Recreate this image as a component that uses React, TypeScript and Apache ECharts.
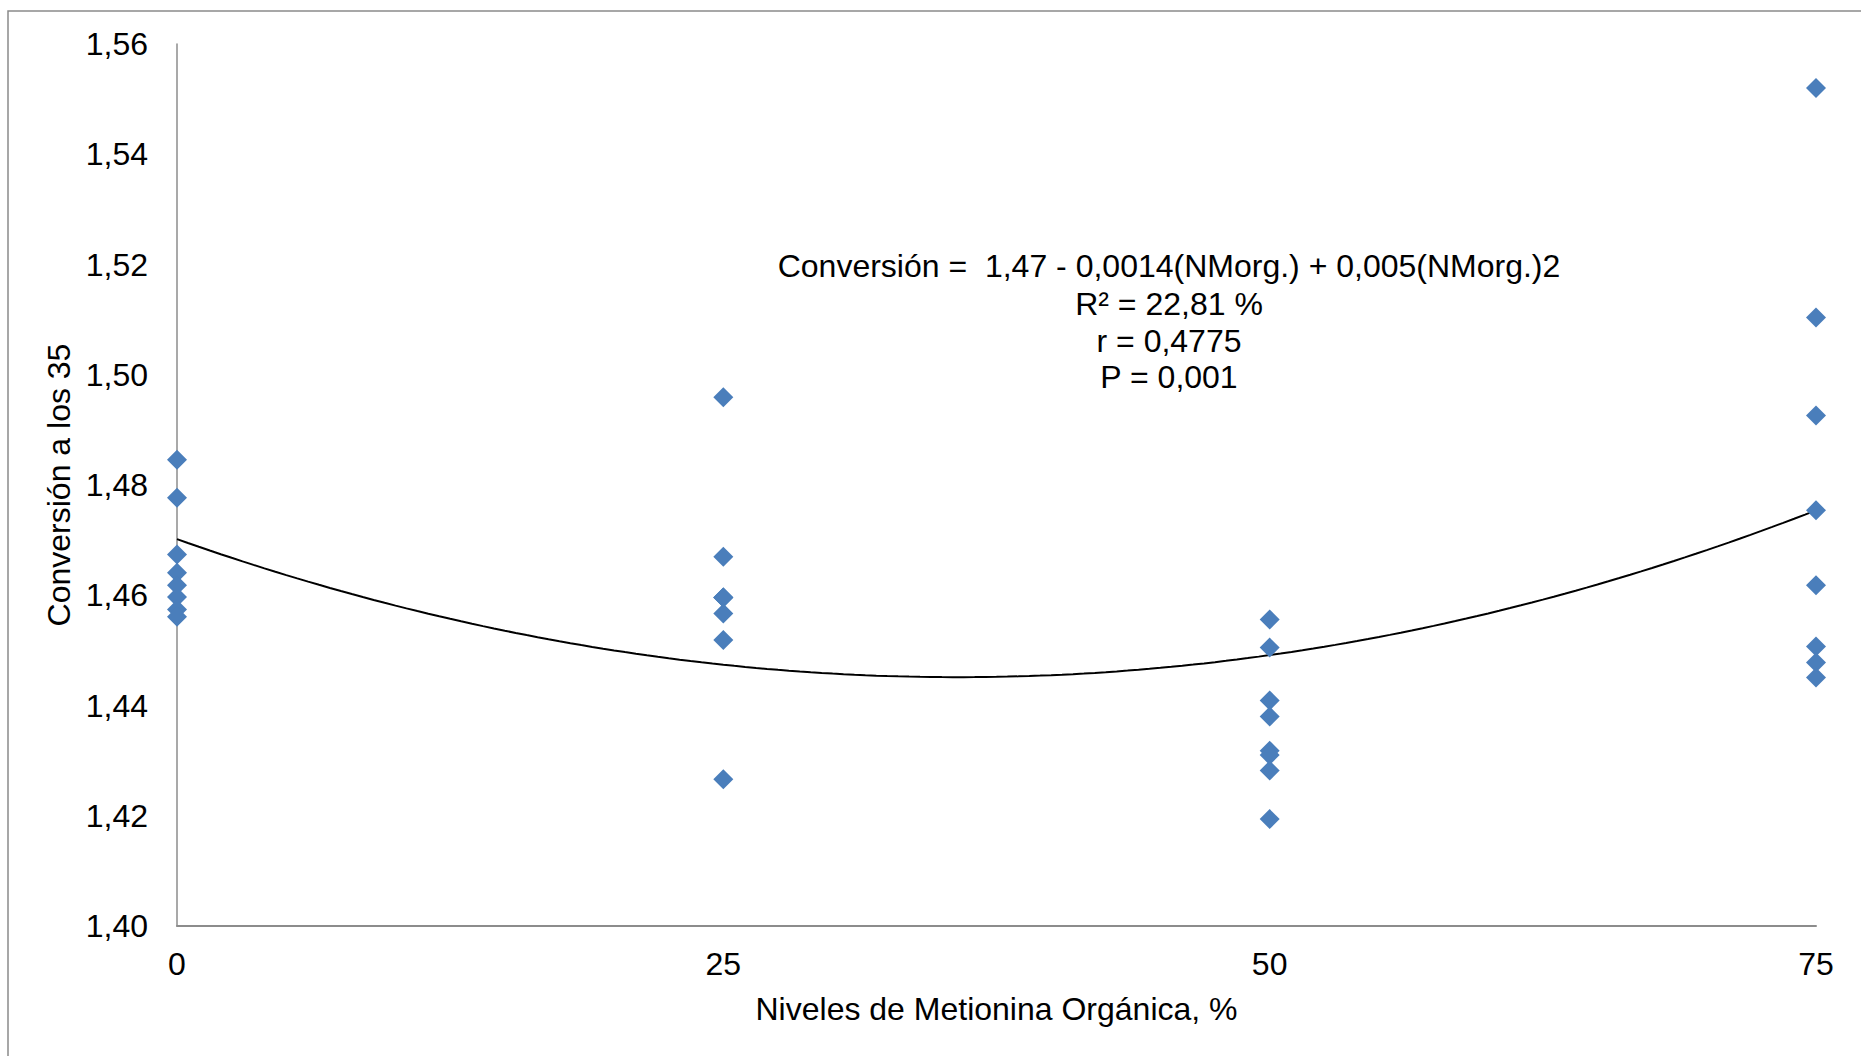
import React, { useEffect, useRef } from "react";
import * as echarts from "echarts";

// Niveles de Metionina Orgánica (%)
const levels = [0, 25, 50, 75];
// Conversión a los 35 días (some points overlap)
const conv0 = [1.4846, 1.4777, 1.4674, 1.4641, 1.4618, 1.4597, 1.4574, 1.4561];
const conv25 = [1.4959, 1.467, 1.4596, 1.4596, 1.4596, 1.4567, 1.4519, 1.4266];
const conv50 = [1.4556, 1.4505, 1.4409, 1.438, 1.4318, 1.431, 1.4282, 1.4194];
const conv75 = [1.552, 1.5104, 1.4926, 1.4754, 1.4618, 1.4507, 1.4478, 1.4451];
const groups = [conv0, conv25, conv50, conv75];

const yTicksMin = 1.4;
const yTicksMax = 1.56;
const yStep = 0.02;

const equationLines = [
  "Conversión =  1,47 - 0,0014(NMorg.) + 0,005(NMorg.)2",
  "R² = 22,81 %",
  "r = 0,4775",
  "P = 0,001",
];

const FONT = "'Liberation Sans', Arial, sans-serif";

// least-squares quadratic fit of the observed points (the chart's trend line)
function quadFit(pts: number[][]) {
  let s0 = 0, s1 = 0, s2 = 0, s3 = 0, s4 = 0, t0 = 0, t1 = 0, t2 = 0;
  for (const [x, y] of pts) {
    s0 += 1; s1 += x; s2 += x * x; s3 += x ** 3; s4 += x ** 4;
    t0 += y; t1 += x * y; t2 += x * x * y;
  }
  const M = [
    [s0, s1, s2, t0],
    [s1, s2, s3, t1],
    [s2, s3, s4, t2],
  ];
  for (let i = 0; i < 3; i++) {
    for (let k = i + 1; k < 3; k++) {
      const f = M[k][i] / M[i][i];
      for (let j = i; j < 4; j++) M[k][j] -= f * M[i][j];
    }
  }
  const c = [0, 0, 0];
  for (let i = 2; i >= 0; i--) {
    let s = M[i][3];
    for (let j = i + 1; j < 3; j++) s -= M[i][j] * c[j];
    c[i] = s / M[i][i];
  }
  return c;
}

export default function App() {
  const ref = useRef<HTMLDivElement>(null);
  useEffect(() => {
    if (!ref.current) return;
    const chart = echarts.init(ref.current, undefined, { renderer: "svg" });
    const points: number[][] = [];
    groups.forEach((g, i) => g.forEach((v) => points.push([levels[i], v])));
    const [a, b, c] = quadFit(points);
    const trend: number[][] = [];
    for (let x = levels[0]; x <= levels[levels.length - 1] + 1e-9; x += 0.5) {
      trend.push([x, a + b * x + c * x * x]);
    }
    const lineTops = [266, 304, 341, 377];
    chart.setOption({
      animation: false,
      backgroundColor: "#ffffff",
      textStyle: { fontFamily: FONT },
      grid: { left: 177, right: 45, top: 44, bottom: 130, containLabel: false },
      xAxis: {
        type: "value",
        min: 0,
        max: 75,
        interval: 25,
        name: "Niveles de Metionina Orgánica, %",
        nameLocation: "middle",
        nameGap: 67,
        nameTextStyle: { fontSize: 32, color: "#000", fontFamily: FONT },
        axisLine: { show: true, lineStyle: { color: "#8c8c8c", width: 2 } },
        axisTick: { show: false },
        splitLine: { show: false },
        axisLabel: { fontSize: 32, color: "#000", margin: 22, fontFamily: FONT },
      },
      yAxis: {
        type: "value",
        min: yTicksMin,
        max: yTicksMax,
        interval: yStep,
        name: "Conversión a los 35",
        nameLocation: "middle",
        nameGap: 99,
        nameTextStyle: { fontSize: 32, color: "#000", fontFamily: FONT },
        axisLine: { show: true, lineStyle: { color: "#8c8c8c", width: 1.5 } },
        axisTick: { show: false },
        splitLine: { show: false },
        axisLabel: {
          fontSize: 32,
          color: "#000",
          margin: 29,
          fontFamily: FONT,
          formatter: (v: number) => v.toFixed(2).replace(".", ","),
        },
      },
      graphic: [
        {
          type: "rect",
          shape: { x: 8, y: 11, width: 1900, height: 1100 },
          style: { fill: "none", stroke: "#8a8a8a", lineWidth: 1.5 },
          silent: true,
          z: -10,
        },
        ...equationLines.map((t, i) => ({
          type: "text",
          x: 1169,
          y: lineTops[i],
          style: {
            text: t,
            fontSize: 32,
            fontFamily: FONT,
            fill: "#000",
            textAlign: "center",
            textVerticalAlign: "middle",
          },
        })),
      ],
      series: [
        {
          type: "line",
          data: trend,
          showSymbol: false,
          symbol: "none",
          smooth: false,
          lineStyle: { color: "#000", width: 2 },
          z: 1,
        },
        {
          type: "scatter",
          data: points,
          symbol: "diamond",
          symbolSize: 20,
          itemStyle: { color: "#4a7ebb", opacity: 1 },
          z: 2,
        },
      ],
    });
    return () => chart.dispose();
  }, []);
  return (
    <div
      ref={ref}
      style={{ position: "fixed", left: 0, top: 0, width: 1861, height: 1056 }}
    />
  );
}
